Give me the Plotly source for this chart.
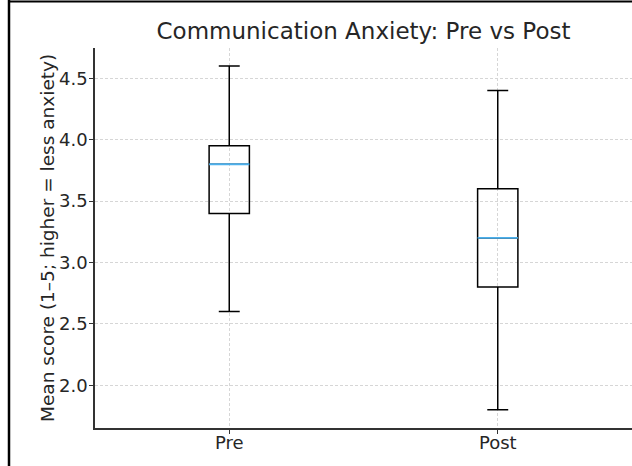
import plotly.graph_objects as go

# ---- data ----
groups = ["Pre", "Post"]
positions = [1, 2]
lower_whisker = [2.6, 1.8]
q1_vals = [3.4, 2.8]
median_vals = [3.8, 3.2]
q3_vals = [3.95, 3.6]
upper_whisker = [4.6, 4.4]

BOX_W = 0.15
FONT = "DejaVu Sans"

fig = go.Figure()

fig.add_trace(go.Box(
    x=positions,
    q1=q1_vals,
    median=median_vals,
    q3=q3_vals,
    lowerfence=lower_whisker,
    upperfence=upper_whisker,
    width=BOX_W,
    whiskerwidth=0.52,
    line=dict(color="black", width=1.5),
    fillcolor="rgba(0,0,0,0)",
    boxpoints=False,
    hoverinfo="skip",
    showlegend=False,
))

# median lines in blue drawn over the boxes
mx, my = [], []
for p, m in zip(positions, median_vals):
    mx += [p - BOX_W / 2, p + BOX_W / 2, None]
    my += [m, m, None]
fig.add_trace(go.Scatter(
    x=mx, y=my, mode="lines",
    line=dict(color="#4cb0ec", width=1.8),
    hoverinfo="skip", showlegend=False,
))

L, R, T, B = 95, 0, 48, 38
W, H = 632, 466
pw, ph = W - L - R, H - T - B

fig.update_layout(
    width=W, height=H,
    margin=dict(l=L, r=R, t=T, b=B, pad=0),
    paper_bgcolor="white",
    plot_bgcolor="white",
    font=dict(family=FONT, color="#262626"),
    title=dict(
        text="Communication Anxiety: Pre vs Post",
        x=(L + pw / 2) / W, xanchor="center",
        y=1 - 31 / H, yanchor="middle",
        font=dict(size=23, family=FONT, color="#262626"),
    ),
    xaxis=dict(
        range=[0.5, 2.5],
        tickmode="array", tickvals=positions, ticktext=groups,
        showgrid=True, gridcolor="#d6d6d6", griddash="3px,2px", gridwidth=1,
        showline=True, linecolor="#333333", linewidth=1.5,
        ticks="outside", ticklen=4, tickcolor="#333333",
        ticklabelstandoff=-6,
        tickfont=dict(size=18, family=FONT, color="#262626"),
        zeroline=False,
    ),
    yaxis=dict(
        range=[1.652, 4.747],
        tickmode="linear", tick0=2.0, dtick=0.5, tickformat=".1f",
        showgrid=True, gridcolor="#d6d6d6", griddash="3px,2px", gridwidth=1,
        showline=True, linecolor="#333333", linewidth=1.5,
        ticks="outside", ticklen=4, tickcolor="#333333",
        ticklabelstandoff=-2,
        tickfont=dict(size=18, family=FONT, color="#262626"),
        zeroline=False,
    ),
    annotations=[dict(
        text="Mean score (1–5; higher = less anxiety)",
        xref="paper", yref="paper",
        x=(47 - L) / pw, y=0.5,
        xanchor="center", yanchor="middle",
        textangle=-90, showarrow=False,
        font=dict(size=18.5, family=FONT, color="#262626"),
    )],
    shapes=[
        dict(type="line", xref="paper", yref="paper",
             x0=(9 - L) / pw, x1=(9 - L) / pw, y0=-B / ph, y1=1 + T / ph,
             line=dict(color="black", width=2.5)),
        dict(type="line", xref="paper", yref="paper",
             x0=(8 - L) / pw, x1=1.0, y0=1 + (T - 1.5) / ph, y1=1 + (T - 1.5) / ph,
             line=dict(color="black", width=2)),
    ],
)

fig.write_html(
    "out.html",
    config={"displayModeBar": False},
    post_script="document.body.style.margin='0';document.body.style.overflow='hidden';",
)
